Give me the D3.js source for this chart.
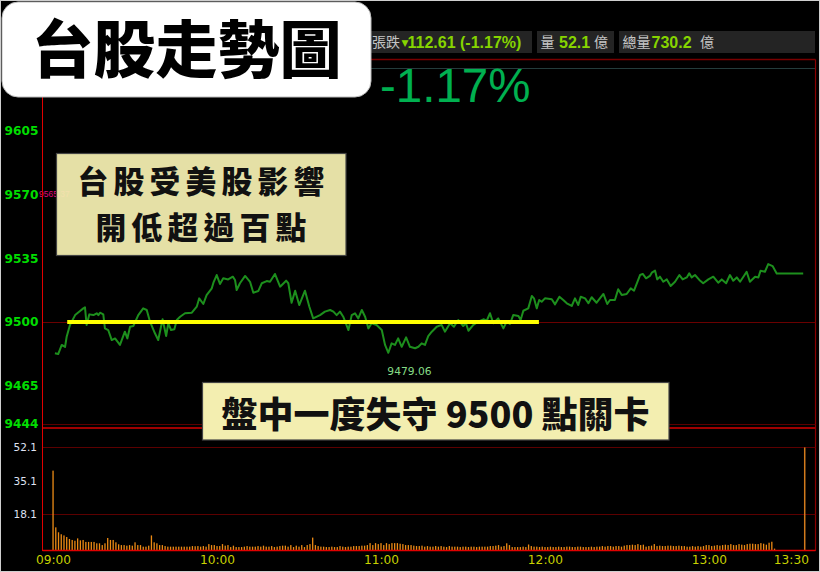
<!DOCTYPE html>
<html><head><meta charset="utf-8">
<script src="https://cdn.jsdelivr.net/npm/d3@7"></script>
<style>html,body{margin:0;padding:0;background:#000;}svg{display:block}</style>
</head><body><svg id="c" width="820" height="572"></svg>
<script>
// ---------- data ----------
const priceMinutes = [0.7,1.9,3.2,4.4,5.0,6.2,8.1,9.9,11.1,11.7,
12.3,13.3,14.8,16.0,16.6,17.2,18.4,19.0,20.2,21.5,
22.7,24.5,26.3,27.2,28.2,29.4,31.2,33.0,34.3,35.5,
37.3,38.5,40.1,41.4,42.2,43.2,44.4,45.3,46.5,48.3,
50.8,52.6,53.5,55.0,56.2,58.1,58.7,59.9,61.1,62.3,
64.1,65.8,66.6,67.2,68.4,70.3,72.1,73.3,75.1,76.4,
78.2,79.4,81.2,83.1,85.3,86.1,87.3,88.6,90.1,92.2,
93.8,95.2,97.7,99.5,101.4,102.6,103.8,105.0,106.2,108.1,
109.3,110.5,111.7,113.0,114.2,115.4,116.6,118.4,120.3,121.5,
122.7,123.9,125.1,126.3,127.6,129.2,130.6,132.5,133.7,134.9,
136.1,137.3,138.6,140.4,142.2,143.4,145.3,146.7,148.3,150.1,
151.1,152.0,153.8,155.6,157.5,158.7,159.9,161.1,162.9,164.8,
166.0,167.2,168.4,170.3,171.1,172.1,173.9,175.2,176.0,177.0,
177.9,178.8,180.0,182.5,183.7,185.3,186.7,188.0,189.8,191.0,
192.2,193.1,194.7,195.9,197.1,198.9,201.4,202.8,203.8,205.6,
206.8,208.1,209.9,211.4,212.6,214.8,215.8,217.0,218.4,219.1,
220.3,221.1,222.1,223.3,224.6,226.0,227.6,229.2,230.4,231.9,
232.8,233.7,234.9,236.5,237.9,239.8,241.6,243.4,244.7,246.3,
247.7,248.9,250.2,251.4,252.8,253.8,255.0,256.9,258.1,258.9,
260.5,261.7,263.3,264.8,268.5,274.5];
const priceValues = [9482.8,9482.4,9487.4,9486.3,9491.9,9498.4,9503.8,9506.0,9507.5,9508.1,
9498.4,9504.2,9503.8,9504.8,9503.8,9505.1,9504.2,9496.5,9495.6,9490.1,
9491.0,9487.4,9494.7,9491.0,9497.4,9497.8,9503.8,9507.5,9506.6,9500.2,
9493.8,9490.1,9501.5,9492.3,9499.3,9495.6,9496.0,9501.1,9502.9,9504.8,
9505.1,9508.4,9513.0,9509.9,9514.8,9518.5,9521.6,9525.8,9520.9,9524.0,
9523.4,9524.9,9523.1,9517.6,9521.3,9525.3,9522.1,9516.1,9517.0,9521.3,
9522.5,9522.1,9526.4,9519.4,9522.7,9521.3,9510.6,9517.2,9509.3,9517.2,
9508.4,9502.0,9503.8,9505.7,9506.6,9505.7,9503.8,9505.7,9502.9,9495.6,
9503.8,9504.8,9502.0,9506.6,9502.9,9496.5,9499.3,9498.4,9495.6,9487.4,
9483.1,9488.3,9487.4,9491.0,9486.4,9491.6,9486.4,9485.6,9486.4,9488.3,
9487.4,9492.3,9494.7,9497.4,9498.4,9494.7,9499.3,9497.4,9501.1,9497.8,
9499.3,9495.2,9498.4,9500.2,9501.5,9500.7,9504.8,9499.3,9502.0,9496.5,
9500.2,9498.9,9503.8,9503.3,9501.1,9506.2,9507.5,9514.3,9513.0,9507.5,
9512.1,9511.1,9513.0,9512.5,9509.7,9513.9,9512.1,9510.3,9508.8,9513.0,
9509.3,9513.9,9513.0,9510.3,9513.6,9510.6,9515.4,9509.9,9512.1,9512.1,
9518.0,9514.8,9515.4,9518.5,9517.2,9525.8,9526.4,9524.0,9525.3,9527.1,
9528.2,9523.4,9524.9,9522.1,9523.4,9519.8,9522.1,9525.8,9523.4,9524.5,
9526.7,9524.5,9525.8,9523.1,9521.3,9523.4,9524.9,9521.6,9523.4,9521.3,
9525.8,9522.7,9524.5,9522.1,9525.3,9527.6,9522.1,9524.9,9524.5,9528.2,
9527.6,9531.8,9530.7,9526.7,9526.7,9526.7];
// per-minute volume (億) from 09:00
const volumeValues = [40.3,11.5,9.0,8.0,7.4,6.6,5.6,5.1,4.7,5.9,
4.9,5.1,4.1,4.1,4.1,4.1,3.4,3.4,2.5,3.4,
6.1,5.1,5.1,3.9,2.9,2.5,2.5,2.2,2.5,2.2,
3.9,2.5,2.5,1.7,1.7,2.2,7.4,
3.9,3.4,2.5,2.5,2.0,1.7,1.7,1.7,1.7,1.7,1.7,1.7,1.7,1.7,2.0,1.9,2.0,1.7,2.0,1.7,3.0,2.5,2.5,2.0,
2.0,3.0,2.2,2.5,1.5,2.2,1.5,1.5,1.5,1.7,2.0,1.7,1.7,1.7,2.0,1.7,2.2,1.7,1.7,2.0,
1.5,1.7,2.0,2.2,2.2,1.7,2.5,1.5,2.2,1.7,2.5,1.5,2.5,3.0,
6.3,
2.5,2.0,1.7,1.7,1.5,1.5,1.7,1.5,1.5,2.0,1.7,1.5,1.7,1.7,2.0,
2.0,2.0,2.2,2.2,2.5,3.5,2.5,3.5,3.0,3.5,2.5,3.5,3.0,3.5,3.5,3.5,3.2,3.0,2.5,2.5,2.5,2.2,2.0,2.0,
2.2,1.7,2.0,1.7,1.7,2.0,1.7,2.0,1.7,1.5,2.0,1.7,1.7,1.7,1.5,1.7,1.7,1.5,1.7,1.7,
1.5,1.7,1.7,1.7,1.7,2.0,2.0,2.2,2.5,1.7,2.0,
3.4,2.5,1.5,1.5,1.5,1.5,1.7,1.5,2.8,2.0,1.7,1.7,1.5,1.7,1.5,
1.5,1.7,1.5,1.5,1.7,1.5,1.5,1.7,1.7,1.5,1.5,1.7,1.7,1.5,1.5,1.5,1.7,1.5,1.7,1.7,
2.0,1.7,2.0,2.0,1.7,2.0,2.0,1.7,2.2,
2.5,2.5,2.7,2.5,3.0,2.5,2.7,1.7,2.0,2.2,3.0,2.0,2.2,
2.0,2.0,2.2,2.2,2.0,2.0,2.2,2.0,2.0,1.7,1.7,2.0,1.7,2.0,1.7,2.0,
2.5,2.5,2.0,2.2,2.5,2.2,2.5,2.7,2.5,3.0,2.5,2.5,3.0,2.7,2.5,3.0,3.2,3.2,3.0,3.0,3.5,3.2,2.7,3.7,4.2,0.7];
const closeMinute = 275;
const closeVolume = 52.1;

const priceTicks = [9605, 9570, 9535, 9500, 9465, 9444];
const volumeTicks = [52.1, 35.1, 18.1];
const volumeGrid = [52.1, 18.1];
const timeTicks = [0, 60, 120, 180, 240, 270];
const timeLabels = ["09:00", "10:00", "11:00", "12:00", "13:00", "13:30"];
const supportLevel = 9500;
const supportRange = [5.2, 177.8];
const lowLabel = "9479.06";
const lowLabelMinute = 122.7;
const refLabel = "9565.37";
const title = "台股走勢圖";
const note1 = ["台股受美股影響", "開低超過百點"];
const note2 = "盤中一度失守 9500 點關卡";
const changeText = "-1.17%";
const header = [
  {label: "張跌", value: "112.61 (-1.17%)", unit: ""},
  {label: "量", value: "52.1", unit: "億"},
  {label: "總量", value: "730.2", unit: "億"}
];

// ---------- drawing ----------
const svg = d3.select("#c");
const CJK = "'Noto Sans CJK TC','Noto Sans CJK SC',sans-serif";
const L = 42.5, R = 815.5;

const x = d3.scaleLinear().domain([0, 270]).range([53, 790.9]);
const yP = d3.scaleLinear().domain([9444, 9639.1]).range([424, 68.7]);
const yV = d3.scaleLinear().domain([0, 52.1]).range([550, 447.4]);

svg.append("rect").attr("width", 820).attr("height", 572).attr("fill", "#000");

// header boxes
const hb = [[330, 532], [537, 614], [619, 815]];
hb.forEach(b => svg.append("rect").attr("x", b[0]).attr("y", 31).attr("width", b[1]-b[0]).attr("height", 22).attr("fill", "#242424"));
const lime = "#86d400";
const hdrNum = (xx, t) => svg.append("text").attr("x", xx).attr("y", 47.5).attr("font-family", "Liberation Sans, Arial")
  .attr("font-weight", "bold").attr("font-size", 16).attr("fill", lime).text(t);
const hdrCjk = (xx, t) => svg.append("text").attr("x", xx).attr("y", 46.5).attr("font-family", CJK)
  .attr("font-size", 14).attr("fill", "#c4c4c4").text(t);
hdrCjk(372, header[0].label);
svg.append("text").attr("x", 401.5).attr("y", 45.5).attr("font-family", "DejaVu Sans").attr("font-size", 9).attr("fill", lime).text("▼");
hdrNum(407.5, header[0].value);
hdrCjk(540.5, header[1].label);
hdrNum(559, header[1].value);
hdrCjk(594, header[1].unit);
hdrCjk(622.5, header[2].label);
hdrNum(651.5, header[2].value);
hdrCjk(700, header[2].unit);

// frame lines
svg.append("line").attr("x1", L).attr("x2", R).attr("y1", 59.5).attr("y2", 59.5).attr("stroke", "#7a0000").attr("stroke-width", 1.5);
svg.append("line").attr("x1", L).attr("x2", R).attr("y1", 68.5).attr("y2", 68.5).attr("stroke", "#243c3c").attr("stroke-width", 1.2);
svg.append("line").attr("x1", R).attr("x2", R).attr("y1", 59.5).attr("y2", 551).attr("stroke", "#8a0000").attr("stroke-width", 1.2);

// price grid lines
svg.append("line").attr("x1", L).attr("x2", R).attr("y1", Math.round(yP(9500)) + 0.5).attr("y2", Math.round(yP(9500)) + 0.5).attr("stroke", "#6a0000");
svg.append("line").attr("x1", L).attr("x2", R).attr("y1", Math.round(yP(9444)) + 0.5).attr("y2", Math.round(yP(9444)) + 0.5).attr("stroke", "#5a0000");
svg.append("line").attr("x1", L).attr("x2", R).attr("y1", 428).attr("y2", 428).attr("stroke", "#a00000").attr("stroke-width", 2);

// volume grid lines
svg.selectAll(".vg").data(volumeGrid).join("line")
  .attr("x1", L).attr("x2", R)
  .attr("y1", d => Math.round(yV(d)) + 0.5).attr("y2", d => Math.round(yV(d)) + 0.5)
  .attr("stroke", "#5c0000");

// big change text
svg.append("text").attr("x", 380).attr("y", 102).attr("font-family", "Liberation Sans, Arial").attr("font-size", 47.5).attr("fill", "#00b050").text(changeText);

// price axis
const ga = svg.append("g").attr("transform", `translate(${L},0)`)
  .call(d3.axisLeft(yP).tickValues(priceTicks).tickSize(0).tickPadding(4).tickFormat(d3.format("d")));
ga.select(".domain").remove();
ga.selectAll("text").attr("font-family", "DejaVu Sans").attr("font-weight", "bold").attr("font-size", 12.2).attr("fill", "#00dd00");

// volume axis
const gv = svg.append("g").attr("transform", `translate(${L},0)`)
  .call(d3.axisLeft(yV).tickValues(volumeTicks).tickSize(0).tickPadding(5.5).tickFormat(d3.format(".1f")));
gv.select(".domain").remove();
gv.selectAll("text").attr("font-family", "DejaVu Sans").attr("font-size", 10.5).attr("fill", "#dfe2f2");

// time axis
const gx = svg.append("g").attr("transform", `translate(0,553)`)
  .call(d3.axisBottom(x).tickValues(timeTicks).tickSize(0).tickPadding(2).tickFormat((d, i) => timeLabels[i]));
gx.select(".domain").remove();
gx.selectAll("text").attr("font-family", "DejaVu Sans").attr("font-size", 12.2).attr("fill", "#c8d200");

// reference label (partly under note box)
svg.append("text").attr("x", 39).attr("y", 197).attr("font-family", "Liberation Sans, Arial").attr("font-size", 8.5).attr("fill", "#e0087c").text(refLabel);

// volume bars
svg.append("g").selectAll("rect").data(volumeValues).join("rect")
  .attr("x", (d, i) => x(i) - 0.6).attr("width", 1.3)
  .attr("y", d => yV(d)).attr("height", d => yV(0) - yV(d))
  .attr("fill", "#ec8a14");
svg.append("rect").attr("x", x(closeMinute) - 0.6).attr("width", 1.5)
  .attr("y", yV(closeVolume)).attr("height", yV(0) - yV(closeVolume)).attr("fill", "#d27a1c");

// axis lines
svg.append("line").attr("x1", L).attr("x2", L).attr("y1", 59.5).attr("y2", 551).attr("stroke", "#e00000");
svg.append("line").attr("x1", L).attr("x2", R).attr("y1", 550.5).attr("y2", 550.5).attr("stroke", "#e00000").attr("stroke-width", 1.5);

// price line
const pts = priceMinutes.map((m, i) => [m, priceValues[i]]);
svg.append("path").datum(pts)
  .attr("d", d3.line().x(d => x(d[0])).y(d => yP(d[1])))
  .attr("fill", "none").attr("stroke", "#1d8f1d").attr("stroke-width", 2).attr("stroke-linejoin", "round");

// support line
svg.append("line").attr("x1", x(supportRange[0])).attr("x2", x(supportRange[1]))
  .attr("y1", yP(supportLevel)).attr("y2", yP(supportLevel))
  .attr("stroke", "#ffff00").attr("stroke-width", 4);

// low label
const lowIdx = priceMinutes.indexOf(lowLabelMinute);
svg.append("text").attr("x", x(priceMinutes[lowIdx]) - 1).attr("y", yP(priceValues[lowIdx]) + 22)
  .attr("font-family", "DejaVu Sans").attr("font-size", 10.7).attr("fill", "#86dc86").text(lowLabel);

// note boxes
svg.append("rect").attr("x", 56.5).attr("y", 153.5).attr("width", 289.5).attr("height", 102)
  .attr("fill", "#f3eeb0").attr("fill-opacity", 0.94).attr("stroke", "#444").attr("stroke-width", 1.2);
note1.forEach((t, i) => svg.append("text").attr("x", 203.5).attr("y", [179.3, 225][i])
  .attr("text-anchor", "middle").attr("dominant-baseline", "central")
  .attr("font-family", CJK).attr("font-weight", 900).attr("font-size", 30.8).attr("letter-spacing", 5.2)
  .attr("fill", "#111").text(t));

svg.append("rect").attr("x", 202.5).attr("y", 382.5).attr("width", 466.5).attr("height", 57.5)
  .attr("fill", "#f3eeb0").attr("stroke", "#444").attr("stroke-width", 1.2);
svg.append("text").attr("x", 435.5).attr("y", 411.5).attr("text-anchor", "middle").attr("dominant-baseline", "central")
  .attr("font-family", CJK).attr("font-weight", 900).attr("font-size", 36).attr("fill", "#111").text(note2);

// title box
svg.append("rect").attr("x", 2).attr("y", 2).attr("width", 369).attr("height", 95).attr("rx", 16)
  .attr("fill", "#fff").attr("stroke", "#bbb").attr("stroke-width", 1);
svg.append("text").attr("x", 186.5).attr("y", 46).attr("text-anchor", "middle").attr("dominant-baseline", "central")
  .attr("font-family", CJK).attr("font-weight", 900).attr("font-size", 62).attr("fill", "#000").text(title);

// outer border
svg.append("rect").attr("x", 0.5).attr("y", 0.5).attr("width", 819).attr("height", 571)
  .attr("fill", "none").attr("stroke", "#cfcfcf").attr("stroke-width", 1);
</script></body></html>
